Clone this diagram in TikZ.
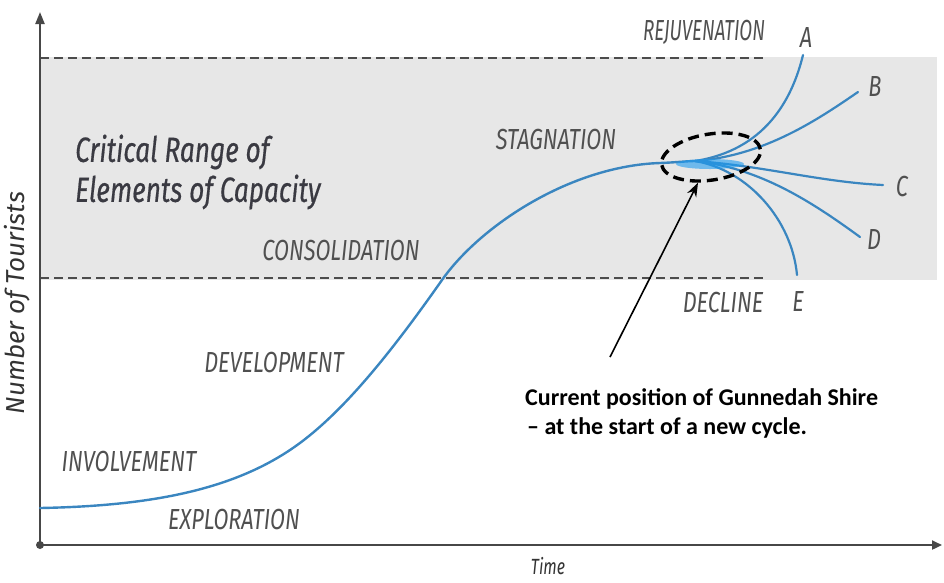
\documentclass[tikz,border=0pt]{standalone}
\usepackage{fontspec}
\usetikzlibrary{arrows.meta,shapes.geometric}
\newfontfamily\stagefont[FakeStretch=0.75]{Fira Sans}
\newfontfamily\titlefont[FakeStretch=0.75,FakeBold=0.5]{Fira Sans}
\newfontfamily\axisfont{Fira Sans}
\newfontfamily\timefont[FakeStretch=0.72]{Fira Sans}
\newfontfamily\notefont{Carlito}
\definecolor{bandgray}{HTML}{E7E7E7}
\definecolor{curveblue}{HTML}{3A86C0}
\definecolor{glowblue}{HTML}{1E9BF0}
\definecolor{labelgray}{HTML}{505050}
\definecolor{titlegray}{HTML}{3A3A42}
\tikzset{
  stage/.style={font=\stagefont\itshape\fontsize{29}{29}\selectfont, text=labelgray, inner sep=0pt},
  crit/.style={font=\titlefont\itshape\fontsize{35}{40}\selectfont, text=titlegray, inner sep=0pt, align=left},
  axislab/.style={font=\axisfont\itshape\fontsize{26}{26}\selectfont, text=black!80, inner sep=0pt},
  timelab/.style={font=\timefont\itshape\fontsize{22}{22}\selectfont, text=black!80, inner sep=0pt},
  limitline/.style={dash pattern=on 9pt off 5pt, line width=1.6pt, black!70},
  axisline/.style={line width=2.2pt, black!72},
  lifecurve/.style={line width=2.4pt, curveblue, line cap=round},
  branch/.style={line width=2.2pt, curveblue, line cap=round},
  note/.style={font=\notefont\bfseries\fontsize{24}{29}\selectfont, inner sep=0pt, align=left}
}
\begin{document}
\begin{tikzpicture}[x=1pt,y=-1pt]
\useasboundingbox (0,0) rectangle (944,582);
% critical range band
\fill[bandgray] (40,57) rectangle (937,280);
\draw[limitline] (40,58) -- (765,58);
\draw[limitline] (40,278) -- (765,278);
% axes
\coordinate (origin) at (40,545);
\coordinate (ytop) at (40,12);
\coordinate (xend) at (942,545);
\draw[axisline, -{Triangle[length=12pt,width=9pt]}] (origin) -- (ytop);
\draw[axisline, -{Triangle[length=10pt,width=9pt]}] (origin) -- (xend);
\fill[black!72] (origin) circle (4pt);
\node[axislab, rotate=90] (ylab) at (17,303) {Number of Tourists};
\node[timelab] (xlab) at (548,566) {Time};
% band caption
\node[crit, anchor=west] (crit) at (75,172) {Critical Range of\\Elements of Capacity};
% life-cycle curve
\coordinate (start) at (40,508);
\coordinate (fan) at (695,161);
\draw[lifecurve] (start) .. controls (150,506) and (230,490) .. (290,450)
  .. controls (340,416.7) and (390,354) .. (442,280)
  .. controls (480,226) and (570,166) .. (660,163)
  .. controls (675,162.5) and (688,161) .. (fan);
% post-stagnation branches
\coordinate (endA) at (803,55);
\coordinate (endB) at (858,92);
\coordinate (endC) at (883,185);
\coordinate (endD) at (860,237);
\coordinate (endE) at (797,275);
\draw[branch] (fan) .. controls (765,150) and (792,100) .. (endA);
\draw[branch] (fan) .. controls (765,156) and (820,118) .. (endB);
\draw[branch] (fan) .. controls (765,166) and (820,182) .. (endC);
\draw[branch] (fan) .. controls (760,168) and (812,202) .. (endD);
\draw[branch] (fan) .. controls (748,170) and (792,220) .. (endE);
\fill[glowblue, opacity=0.6] (710,164) ellipse (34pt and 5pt);
% stage labels
\node[stage, xscale=0.86] (rejuv) at (704,32) {REJUVENATION};
\node[stage] (stag) at (556,140) {STAGNATION};
\node[stage] (consol) at (341,251) {CONSOLIDATION};
\node[stage] (decline) at (723,303) {DECLINE};
\node[stage] (devel) at (274,362) {DEVELOPMENT};
\node[stage] (invol) at (129,461) {INVOLVEMENT};
\node[stage] (explor) at (234,519) {EXPLORATION};
\node[stage] (lblA) at (806,38) {A};
\node[stage] (lblB) at (875,87) {B};
\node[stage] (lblC) at (902,187) {C};
\node[stage] (lblD) at (874,240) {D};
\node[stage] (lblE) at (798,302) {E};
% current position marker and note
\node[ellipse, draw=black, line width=3.4pt, dash pattern=on 11pt off 6pt, minimum width=100pt, minimum height=46pt, rotate=9, inner sep=0pt] (cur) at (711,157) {};
\node[note, anchor=north west] (gunnedah) at (525,388) {Current position of Gunnedah Shire\\\hspace{2pt}– at the start of a new cycle.};
\coordinate (tail) at (610,357);
\draw[line width=1.6pt, -{Stealth[length=14pt,width=10pt]}] (tail) -- (cur);
\end{tikzpicture}
\end{document}
